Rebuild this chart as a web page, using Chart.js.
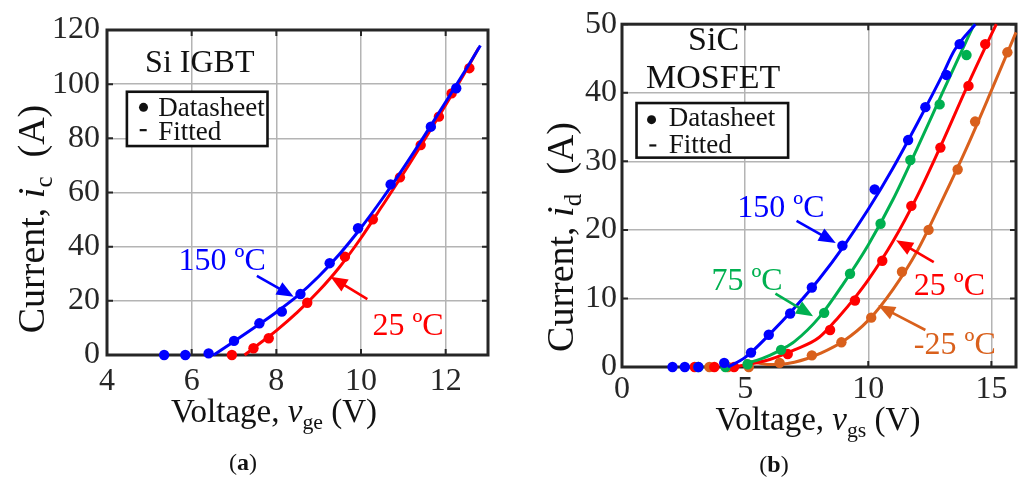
<!DOCTYPE html>
<html>
<head>
<meta charset="utf-8">
<script src="https://cdn.jsdelivr.net/npm/chart.js@4.4.1/dist/chart.umd.min.js"></script>
<style>
  html, body { margin: 0; padding: 0; background: #fff; }
  body { width: 1022px; height: 477px; position: relative; overflow: hidden; }
  .panel { position: absolute; top: 0; height: 477px; }
  #pa { left: 0; width: 515px; }
  #pb { left: 515px; width: 507px; }
</style>
</head>
<body>
<div class="panel" id="pa"><canvas id="ca"></canvas></div>
<div class="panel" id="pb"><canvas id="cb"></canvas></div>
<script>
// ---------- (a) Si IGBT transfer characteristic ----------
const igbtVoltTicks = [4, 6, 8, 10, 12];
const igbtCurTicks = [0, 20, 40, 60, 80, 100, 120];

const igbtV150 = [5.35, 5.85, 6.4, 7.0, 7.6, 8.13, 8.57, 9.26, 9.93, 10.7, 11.65, 12.25];
const igbtI150 = [0, 0, 0.6, 5.2, 11.7, 16.0, 22.5, 33.9, 46.8, 63.0, 84.3, 98.5];
const igbtV25 = [6.95, 7.46, 7.82, 8.73, 9.62, 10.28, 10.92, 11.41, 11.84, 12.14, 12.56];
const igbtI25 = [0, 2.5, 6.2, 19.3, 36.3, 50.1, 65.6, 77.5, 88.0, 96.6, 105.9];

const igbtFitV150 = [6.52, 7.0, 7.5, 8.0, 8.5, 9.0, 9.5, 10.0, 10.5, 11.0, 11.5, 12.0, 12.5, 12.82];
const igbtFitI150 = [0, 5.0, 10.3, 15.8, 21.8, 29.0, 37.4, 47.0, 57.6, 69.0, 81.0, 93.4, 106.0, 114.3];
const igbtFitV25 = [7.25, 7.5, 8.0, 8.5, 9.0, 9.5, 10.0, 10.5, 11.0, 11.5, 12.0, 12.5, 12.78];
const igbtFitI25 = [0, 3.0, 9.0, 15.8, 23.6, 32.6, 43.2, 55.0, 67.0, 79.5, 92.3, 105.5, 113.4];

// ---------- (b) SiC MOSFET transfer characteristic ----------
const sicVoltTicks = [0, 5, 10, 15];
const sicCurTicks = [0, 10, 20, 30, 40, 50];

const sicV150 = [2.05, 2.55, 3.1, 4.15, 5.24, 5.96, 6.83, 7.71, 8.95, 10.26, 11.62, 12.32, 13.17, 13.71];
const sicI150 = [0, 0, 0, 0.6, 2.1, 4.7, 7.8, 11.6, 17.7, 25.9, 33.1, 37.9, 42.6, 47.1];
const sicV75 = [3.1, 4.2, 5.1, 6.46, 8.21, 9.26, 10.5, 11.71, 12.9, 13.99];
const sicI75 = [0, 0, 0.4, 2.5, 7.9, 13.6, 20.9, 30.2, 38.3, 45.5];
const sicV25 = [2.95, 3.75, 4.55, 6.73, 8.45, 9.46, 10.57, 11.75, 12.93, 14.07, 14.75];
const sicI25 = [0, 0, 0, 1.9, 5.4, 9.7, 15.5, 23.5, 32.0, 41.0, 47.1];
const sicVm25 = [3.55, 4.3, 5.15, 6.4, 7.71, 8.91, 10.12, 11.37, 12.45, 13.63, 14.34, 15.65];
const sicIm25 = [0, 0, 0, 0.6, 1.7, 3.6, 7.2, 13.9, 20.0, 28.8, 35.8, 45.9];

const sicFitV150 = [4.3, 5.0, 6.0, 7.0, 8.0, 9.0, 10.0, 11.0, 12.0, 13.0, 13.5, 14.35];
const sicFitI150 = [0, 1.4, 4.8, 8.6, 12.8, 17.6, 23.0, 29.0, 35.6, 42.5, 46.2, 50];
const sicFitV75 = [5.0, 5.5, 6.0, 6.5, 7.0, 8.0, 9.0, 10.0, 11.0, 12.0, 13.0, 14.3];
const sicFitI75 = [0.5, 1.0, 1.7, 2.6, 3.7, 7.2, 12.2, 17.8, 24.4, 32.0, 39.9, 50];
const sicFitV25 = [4.55, 5.0, 6.0, 7.0, 8.0, 8.8, 9.5, 10.0, 11.0, 12.0, 13.0, 14.0, 15.0, 15.2];
const sicFitI25 = [0, 0.3, 1.1, 2.5, 4.3, 7.3, 10.3, 12.7, 18.3, 25.0, 32.7, 40.8, 48.5, 50];
const sicFitVm25 = [5.0, 5.5, 6.0, 6.5, 7.0, 7.5, 8.0, 9.0, 10.0, 11.0, 12.0, 13.0, 14.0, 15.0, 16.0];
const sicFitIm25 = [1.0, 0.6, 0.35, 0.4, 0.7, 1.2, 1.9, 3.8, 6.8, 11.3, 17.0, 24.3, 32.0, 40.3, 48.8];

// ---------- styling ----------
const SERIF = '"Liberation Serif", "Times New Roman", serif';
const INK = '#262626';
const BLUE = '#0000ff', RED = '#ff0000', GREEN = '#00b050', ORANGE = '#d9601c';

function pts(xs, ys) { return xs.map((x, i) => ({ x: x, y: ys[i] })); }
function dots(label, xs, ys, color) {
  return { label, data: pts(xs, ys), showLine: false, pointRadius: 5.2, pointHoverRadius: 5.2,
           pointBackgroundColor: color, pointBorderColor: color, pointBorderWidth: 0, clip: false };
}
function curve(label, xs, ys, color) {
  return { label, data: pts(xs, ys), showLine: true, pointRadius: 0, pointHoverRadius: 0,
           borderColor: color, borderWidth: 3, cubicInterpolationMode: 'monotone', fill: false, clip: false };
}
function font(size, style) { return (style ? style + ' ' : '') + size + 'px ' + SERIF; }

function drawRich(ctx, parts, x, y, align) {
  let w = 0;
  parts.forEach(p => { ctx.font = p.font; w += ctx.measureText(p.text).width; });
  let cx = align === 'center' ? x - w / 2 : x;
  ctx.textAlign = 'left';
  ctx.textBaseline = 'alphabetic';
  parts.forEach(p => {
    ctx.font = p.font;
    ctx.fillText(p.text, cx, y + (p.dy || 0));
    cx += ctx.measureText(p.text).width;
  });
}

function drawArrow(ctx, x1, y1, x2, y2, color) {
  const a = Math.atan2(y2 - y1, x2 - x1);
  const L = 17, W = 7;
  const c = Math.cos(a), s = Math.sin(a);
  ctx.strokeStyle = color;
  ctx.lineWidth = 2.6;
  ctx.beginPath();
  ctx.moveTo(x1, y1);
  ctx.lineTo(x2 - L * 0.7 * c, y2 - L * 0.7 * s);
  ctx.stroke();
  ctx.fillStyle = color;
  ctx.beginPath();
  ctx.moveTo(x2, y2);
  ctx.lineTo(x2 - L * c + W * s, y2 - L * s - W * c);
  ctx.lineTo(x2 - L * c - W * s, y2 - L * s + W * c);
  ctx.closePath();
  ctx.fill();
}

// frame, inner tick marks, titles, labels, arrows, legend box, caption
function decorPlugin(d) {
  return {
    id: 'decor',
    beforeDatasetsDraw(chart) {
      const ctx = chart.ctx, area = chart.chartArea;
      const xs = chart.scales.x, ys = chart.scales.y;
      ctx.save();
      ctx.strokeStyle = INK;
      ctx.lineWidth = 2;
      d.xTicks.forEach(v => {
        const px = xs.getPixelForValue(v);
        ctx.beginPath();
        ctx.moveTo(px, area.bottom); ctx.lineTo(px, area.bottom - 6);
        ctx.moveTo(px, area.top); ctx.lineTo(px, area.top + 6);
        ctx.stroke();
      });
      d.yTicks.forEach(v => {
        const py = ys.getPixelForValue(v);
        ctx.beginPath();
        ctx.moveTo(area.left, py); ctx.lineTo(area.left + 6, py);
        ctx.moveTo(area.right, py); ctx.lineTo(area.right - 6, py);
        ctx.stroke();
      });
      ctx.lineWidth = 3;
      ctx.strokeRect(area.left, area.top, area.right - area.left, area.bottom - area.top);
      ctx.restore();
    },
    afterDatasetsDraw(chart) {
      const ctx = chart.ctx;
      const xs = chart.scales.x, ys = chart.scales.y;
      const X = v => xs.getPixelForValue(v), Y = v => ys.getPixelForValue(v);
      ctx.save();

      // headings inside the plot
      ctx.fillStyle = '#111';
      d.heading.forEach(h => {
        ctx.font = font(h.size);
        ctx.textAlign = h.align;
        ctx.textBaseline = 'alphabetic';
        ctx.fillText(h.text, X(h.x), Y(h.y));
      });

      // temperature labels and arrows
      d.labels.forEach(l => {
        ctx.fillStyle = l.color;
        ctx.font = font(32);
        ctx.textAlign = 'left';
        ctx.textBaseline = 'alphabetic';
        ctx.fillText(l.text, X(l.x), Y(l.y));
      });
      d.arrows.forEach(a => drawArrow(ctx, X(a.from[0]), Y(a.from[1]), X(a.to[0]), Y(a.to[1]), a.color));

      // legend box
      const g = d.legend;
      const lx = X(g.x), ly = Y(g.y);
      ctx.fillStyle = '#fff';
      ctx.fillRect(lx, ly, g.w, g.h);
      ctx.strokeStyle = '#111';
      ctx.lineWidth = 2.6;
      ctx.strokeRect(lx, ly, g.w, g.h);
      ctx.fillStyle = '#111';
      ctx.beginPath();
      ctx.arc(lx + g.dot[0], ly + g.dot[1], 4.5, 0, Math.PI * 2);
      ctx.fill();
      ctx.fillRect(lx + g.dash[0] - 3.5, ly + g.dash[1] - 1, 7, 2.2);
      ctx.font = font(g.font);
      ctx.textAlign = 'left';
      ctx.textBaseline = 'alphabetic';
      ctx.fillText('Datasheet', lx + g.text1[0], ly + g.text1[1]);
      ctx.fillText('Fitted', lx + g.text2[0], ly + g.text2[1]);
      ctx.restore();
    },
    afterDraw(chart) {
      const ctx = chart.ctx;
      ctx.save();
      ctx.fillStyle = '#111';
      // x axis title
      const xt = d.xTitle;
      drawRich(ctx, [
        { text: 'Voltage, ', font: font(xt.size) },
        { text: 'v', font: font(xt.size, 'italic') },
        { text: xt.sub, font: font(xt.size * 0.66), dy: 7 },
        { text: ' (V)', font: font(xt.size) }
      ], xt.center, xt.base, 'center');
      // y axis title, reading upward
      const yt = d.yTitle;
      ctx.translate(yt.base, yt.center);
      ctx.rotate(-Math.PI / 2);
      drawRich(ctx, [
        { text: 'Current, ', font: font(yt.size) },
        { text: 'i', font: font(yt.size, 'italic') },
        { text: yt.sub, font: font(yt.size * 0.66), dy: 8 },
        { text: '  (A)', font: font(yt.size) }
      ], 0, 0, 'center');
      ctx.setTransform(1, 0, 0, 1, 0, 0);
      // caption
      const cp = d.caption;
      drawRich(ctx, [
        { text: '(', font: font(24) },
        { text: cp.text, font: font(24, 'bold') },
        { text: ')', font: font(24) }
      ], cp.center, cp.base, 'center');
      ctx.restore();
    }
  };
}

function makeChart(canvasId, cfg) {
  const tickFont = { family: SERIF, size: 32 };
  return new Chart(document.getElementById(canvasId), {
    type: 'scatter',
    data: { datasets: cfg.datasets },
    options: {
      responsive: true,
      maintainAspectRatio: false,
      animation: false,
      events: [],
      layout: { padding: cfg.padding },
      plugins: { legend: { display: false }, tooltip: { enabled: false } },
      scales: {
        x: {
          type: 'linear', min: cfg.xMin, max: cfg.xMax,
          afterBuildTicks: s => { s.ticks = cfg.xTicks.map(v => ({ value: v })); },
          afterFit: s => { s.height = cfg.xAxisHeight; },
          grid: { color: '#b4b4b4', lineWidth: 1.5, drawTicks: false },
          border: { display: false },
          ticks: { font: tickFont, color: INK, padding: cfg.xPad, maxRotation: 0 }
        },
        y: {
          type: 'linear', min: cfg.yMin, max: cfg.yMax,
          afterBuildTicks: s => { s.ticks = cfg.yTicks.map(v => ({ value: v })); },
          afterFit: s => { s.width = cfg.yAxisWidth; },
          grid: { color: '#b4b4b4', lineWidth: 1.5, drawTicks: false },
          border: { display: false },
          ticks: { font: tickFont, color: INK, padding: cfg.yPad }
        }
      }
    },
    plugins: [decorPlugin(cfg.decor)]
  });
}

makeChart('ca', {
  xMin: 4, xMax: 13, yMin: 0, yMax: 120,
  xTicks: igbtVoltTicks, yTicks: igbtCurTicks,
  padding: { left: 0, top: 30, right: 27, bottom: 0 },
  xAxisHeight: 122, yAxisWidth: 107, xPad: 7, yPad: 7,
  datasets: [
    dots('150 ºC datasheet', igbtV150, igbtI150, BLUE),
    curve('150 ºC fitted', igbtFitV150, igbtFitI150, BLUE),
    dots('25 ºC datasheet', igbtV25, igbtI25, RED),
    curve('25 ºC fitted', igbtFitV25, igbtFitI25, RED)
  ],
  decor: {
    xTicks: igbtVoltTicks, yTicks: igbtCurTicks,
    xTitle: { center: 274, base: 422, sub: 'ge', size: 33 },
    yTitle: { base: 44, center: 219, sub: 'c', size: 38 },
    caption: { text: 'a', center: 243, base: 470 },
    heading: [{ text: 'Si IGBT', x: 4.9, y: 104.5, align: 'left', size: 32 }],
    labels: [
      { text: '150 ºC', x: 5.69, y: 31.4, color: BLUE },
      { text: '25 ºC', x: 10.27, y: 7.4, color: RED }
    ],
    arrows: [
      { from: [7.54, 29.2], to: [8.41, 21.5], color: BLUE },
      { from: [10.15, 20.6], to: [9.28, 28.9], color: RED }
    ],
    legend: { x: 4.47, y: 97.2, w: 140.6, h: 54.3, font: 27,
              dot: [16.6, 15.6], text1: [31.3, 24], dash: [16.3, 38.3], text2: [31.3, 48.3] }
  }
});

makeChart('cb', {
  xMin: 0, xMax: 16, yMin: 0, yMax: 50,
  xTicks: sicVoltTicks, yTicks: sicCurTicks,
  padding: { left: 0, top: 24, right: 6, bottom: 0 },
  xAxisHeight: 110, yAxisWidth: 107, xPad: 3, yPad: 5,
  datasets: [
    dots('150 ºC datasheet', sicV150, sicI150, BLUE),
    curve('150 ºC fitted', sicFitV150, sicFitI150, BLUE),
    dots('75 ºC datasheet', sicV75, sicI75, GREEN),
    curve('75 ºC fitted', sicFitV75, sicFitI75, GREEN),
    dots('25 ºC datasheet', sicV25, sicI25, RED),
    curve('25 ºC fitted', sicFitV25, sicFitI25, RED),
    dots('-25 ºC datasheet', sicVm25, sicIm25, ORANGE),
    curve('-25 ºC fitted', sicFitVm25, sicFitIm25, ORANGE)
  ],
  decor: {
    xTicks: sicVoltTicks, yTicks: sicCurTicks,
    xTitle: { center: 303, base: 430, sub: 'gs', size: 33 },
    yTitle: { base: 58, center: 237, sub: 'd', size: 38 },
    caption: { text: 'b', center: 259, base: 472 },
    heading: [
      { text: 'SiC', x: 3.72, y: 46.2, align: 'center', size: 34 },
      { text: 'MOSFET', x: 3.70, y: 40.7, align: 'center', size: 34 }
    ],
    labels: [
      { text: '150 ºC', x: 4.68, y: 21.9, color: BLUE },
      { text: '75 ºC', x: 3.63, y: 11.3, color: GREEN },
      { text: '25 ºC', x: 11.85, y: 10.5, color: RED },
      { text: '-25 ºC', x: 11.85, y: 1.85, color: ORANGE }
    ],
    arrows: [
      { from: [7.09, 21.3], to: [8.68, 18.1], color: BLUE },
      { from: [6.23, 10.7], to: [7.76, 7.4], color: GREEN },
      { from: [12.66, 15.3], to: [11.13, 18.5], color: RED },
      { from: [12.32, 5.4], to: [10.40, 9.0], color: ORANGE }
    ],
    legend: { x: 0.59, y: 38.5, w: 151.6, h: 54.6, font: 27,
              dot: [15, 16.6], text1: [32.3, 23.3], dash: [16.3, 42.3], text2: [32.3, 50] }
  }
});
</script>
</body>
</html>
